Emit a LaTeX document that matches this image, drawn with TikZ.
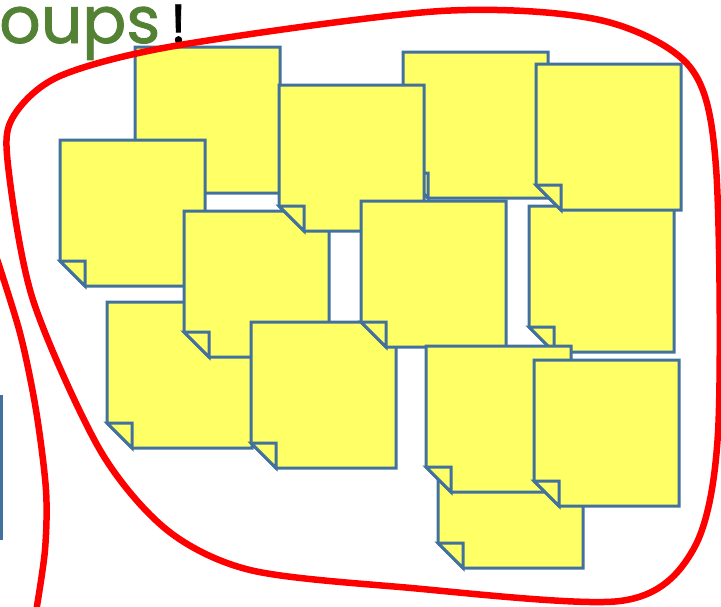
\documentclass[tikz,border=0pt]{standalone}
\usepackage{fontspec}
\newfontfamily\titlefont[FakeBold=1.3]{Poppins}
\usepackage{tikz}
\definecolor{noteyellow}{HTML}{FFFF66}
\definecolor{noteedge}{HTML}{41719C}
\definecolor{titlegreen}{HTML}{548235}

\begin{document}
\begin{tikzpicture}[x=1pt, y=-1pt,
  notebody/.style={fill=noteyellow, draw=noteedge, line width=3pt, line join=miter},
  blobline/.style={draw=red, line width=6.5pt}]
  \useasboundingbox (0,0) rectangle (721,606);
  \clip (0,0) rectangle (721,606);
  \node[anchor=base west, inner sep=0, text=titlegreen,
        font=\titlefont\fontsize{65}{65}\selectfont] (title) at (-1,43)
        {oups\hspace{10pt}{\fontsize{55}{55}\selectfont\textcolor{black}{!}}};
  % sticky notes, back to front (top-left corners)
  \foreach \nx/\ny in {135/47, 403/52, 60/140, 107/302, 184/211, 279/85, 251/322,
                       361/201, 529/206, 536/64, 438/422, 426/346, 534/360} {
    \draw[notebody] (\nx,\ny) -- (\nx,\ny+121) -- (\nx+25,\ny+146)
      -- (\nx+145,\ny+146) -- (\nx+145,\ny) -- cycle;
    \draw[notebody] (\nx,\ny+121) -- (\nx+25,\ny+121) -- (\nx+25,\ny+146) -- cycle;
  }
  \draw[noteedge, line width=3pt] (1,395) -- (1,540);
  % the group
  \draw[blobline] plot[smooth cycle] coordinates {(13,117) (60,76) (180,45) (441,11)
    (600,20) (690,67) (716,167) (718,433) (693,550) (620,601) (400,587) (250,570)
    (167,530) (100,450) (33,300) (8,165)};
  \draw[blobline] plot[smooth] coordinates {(-6,250) (20,333) (36,410) (46,490)
    (45,550) (36,612)};
\end{tikzpicture}
\end{document}
